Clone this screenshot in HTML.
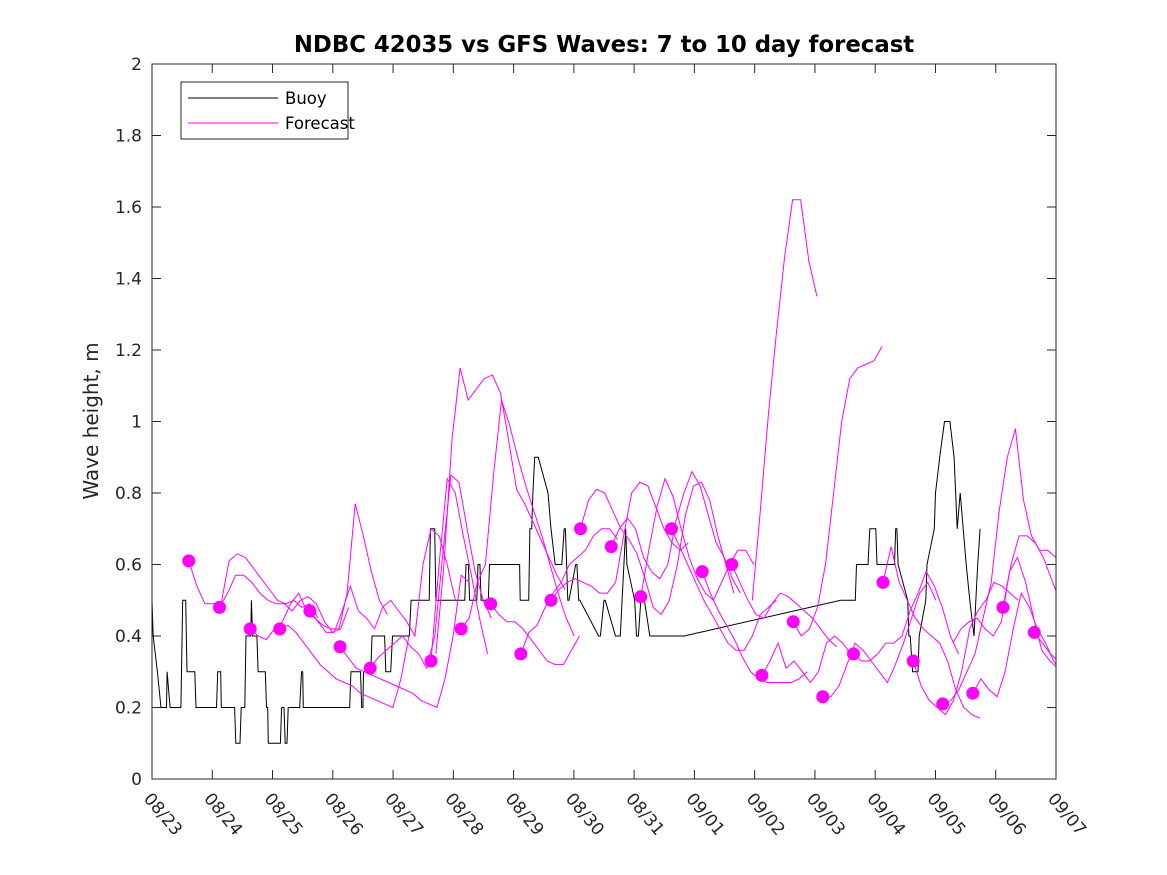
<!DOCTYPE html>
<html><head><meta charset="utf-8"><style>
html,body{margin:0;padding:0;background:#fff;}
svg{display:block;font-family:"DejaVu Sans","Liberation Sans",sans-serif;}
</style></head><body>
<svg id="chart" width="1167" height="875" viewBox="0 0 1167 875" xmlns="http://www.w3.org/2000/svg">
<rect x="0" y="0" width="1167" height="875" fill="#fff"/>
<text x="604" y="52" text-anchor="middle" font-size="22.8" font-weight="bold" fill="#000">NDBC 42035 vs GFS Waves: 7 to 10 day forecast</text>
<text transform="translate(98,421) rotate(-90)" text-anchor="middle" font-size="20" fill="#262626">Wave height, m</text>
<g id="grid"></g>
<g id="series"></g>
<rect x="152" y="64" width="904" height="715" fill="none" stroke="#262626" stroke-width="1"/>
<g>
<rect x="181" y="82" width="167" height="57" fill="#fff" stroke="#262626" stroke-width="1"/>
<line x1="188" y1="98" x2="278" y2="98" stroke="#000" stroke-width="1"/>
<text x="285" y="104" font-size="16.5" fill="#000">Buoy</text>
<line x1="188" y1="123" x2="278" y2="123" stroke="#ff00ff" stroke-width="1"/>
<text x="285" y="129" font-size="16.5" fill="#000">Forecast</text>
</g>
</svg>
<script>
const yTicks=[0,0.2,0.4,0.6,0.8,1,1.2,1.4,1.6,1.8,2];
const yTickLabels=["0","0.2","0.4","0.6","0.8","1","1.2","1.4","1.6","1.8","2"];
const xTickLabels=["08/23","08/24","08/25","08/26","08/27","08/28","08/29","08/30","08/31","09/01","09/02","09/03","09/04","09/05","09/06","09/07"];
const buoyDays=[0,0.02,0.09,0.15,0.24,0.25,0.30,0.48,0.51,0.56,0.58,0.71,0.73,1.07,1.09,1.14,1.15,1.37,1.39,1.46,1.48,1.54,1.56,1.64,1.65,1.67,1.69,1.74,1.76,1.88,1.90,1.92,1.93,2.13,2.15,2.19,2.21,2.24,2.26,2.45,2.48,2.50,2.51,2.75,2.78,3.28,3.30,3.46,3.48,3.50,3.51,3.63,3.65,3.86,3.88,3.96,3.99,4.03,4.05,4.27,4.30,4.31,4.33,4.60,4.62,4.69,4.71,4.76,4.78,5.19,5.21,5.25,5.27,5.39,5.41,5.44,5.46,5.58,5.60,6.05,6.07,6.10,6.11,6.25,6.27,6.30,6.32,6.35,6.41,6.57,6.62,6.69,6.80,6.84,6.86,6.90,6.92,7.03,7.05,7.08,7.10,7.41,7.44,7.50,7.52,7.69,7.71,7.75,7.77,7.86,7.88,8.01,8.04,8.07,8.11,8.17,8.26,8.83,11.43,11.67,11.69,11.88,11.91,12.01,12.03,12.32,12.34,12.36,12.38,12.54,12.56,12.58,12.62,12.71,12.73,12.84,12.86,12.98,13.00,13.07,13.15,13.24,13.31,13.36,13.41,13.51,13.57,13.64,13.70,13.74,13.87,14.03,14.15,14.24,14.28];
const buoyVals=[0.5,0.4,0.3,0.2,0.2,0.3,0.2,0.2,0.5,0.5,0.3,0.3,0.2,0.2,0.3,0.3,0.2,0.2,0.1,0.1,0.2,0.2,0.4,0.4,0.5,0.4,0.4,0.4,0.3,0.3,0.2,0.2,0.1,0.1,0.2,0.2,0.1,0.1,0.2,0.2,0.3,0.3,0.2,0.2,0.2,0.2,0.3,0.3,0.2,0.2,0.3,0.3,0.4,0.4,0.3,0.3,0.4,0.4,0.4,0.4,0.5,0.5,0.5,0.5,0.7,0.7,0.5,0.5,0.5,0.5,0.6,0.6,0.5,0.5,0.6,0.6,0.5,0.5,0.6,0.6,0.6,0.6,0.5,0.5,0.7,0.7,0.8,0.9,0.9,0.8,0.7,0.6,0.6,0.7,0.7,0.5,0.5,0.6,0.6,0.5,0.5,0.4,0.4,0.5,0.5,0.4,0.4,0.4,0.4,0.7,0.6,0.5,0.4,0.4,0.5,0.5,0.4,0.4,0.5,0.5,0.6,0.6,0.7,0.7,0.6,0.6,0.7,0.7,0.6,0.5,0.4,0.4,0.3,0.3,0.4,0.5,0.6,0.7,0.8,0.9,1.0,1.0,0.9,0.7,0.8,0.6,0.5,0.4,0.6,0.7];
const dotDays=[0.61,1.12,1.63,2.12,2.62,3.12,3.62,4.63,5.13,5.62,6.12,6.62,7.11,7.62,8.11,8.62,9.13,9.62,10.12,10.64,11.13,11.64,12.13,12.63,13.12,13.62,14.12,14.64];
const dotVals=[0.61,0.48,0.42,0.42,0.47,0.37,0.31,0.33,0.42,0.49,0.35,0.50,0.70,0.65,0.51,0.70,0.58,0.60,0.29,0.44,0.23,0.35,0.55,0.33,0.21,0.24,0.48,0.41];
const fcStarts=[0.61,1.12,1.63,2.12,2.62,3.12,3.62,4.63,4.71,5.13,5.62,6.12,6.62,7.11,7.62,8.11,8.62,9.13,9.62,9.96,10.12,10.64,11.13,11.64,12.13,12.63,13.12,13.62,14.12,14.64,13.29];
const fcVals=[
[0.61,0.54,0.49,0.49,0.49,0.61,0.63,0.62,0.59,0.56,0.53,0.50,0.49,0.50,0.48,0.49,0.45],
[0.48,0.52,0.57,0.57,0.55,0.52,0.50,0.49,0.49,0.47,0.50,0.51,0.49,0.44,0.41,0.42,0.48],
[0.42,0.40,0.39,0.42,0.44,0.49,0.52,0.47,0.45,0.43,0.42,0.42,0.52,0.77,0.68,0.58,0.50,0.46],
[0.42,0.43,0.41,0.38,0.35,0.32,0.30,0.28,0.27,0.26,0.24,0.23,0.22,0.21,0.20,0.28,0.40],
[0.47,0.44,0.41,0.41,0.47,0.54,0.47,0.45,0.42,0.48,0.50,0.47,0.44,0.40,0.60,0.70,0.68,0.60,0.50],
[0.37,0.34,0.31,0.30,0.29,0.28,0.27,0.26,0.25,0.24,0.22,0.21,0.20,0.28,0.40,0.57,0.55],
[0.31,0.34,0.36,0.38,0.40,0.37,0.35,0.31,0.40,0.63,0.85,0.83,0.70,0.58,0.50,0.45],
[0.33,0.60,0.84,0.80,0.68,0.57,0.45,0.35],
[0.35,0.60,0.95,1.15,1.06,1.09,1.12,1.13,1.08,0.95,0.81,0.77,0.72,0.67,0.62,0.57,0.53],
[0.42,0.45,0.55,0.60,0.85,1.06,0.99,0.90,0.82,0.75,0.68,0.60,0.52,0.45,0.40],
[0.49,0.46,0.44,0.44,0.42,0.39,0.36,0.33,0.32,0.32,0.36,0.40],
[0.35,0.41,0.43,0.48,0.52,0.55,0.60,0.62,0.64,0.68,0.70,0.70,0.67],
[0.50,0.53,0.55,0.56,0.55,0.54,0.52,0.52,0.55,0.68,0.80,0.83,0.82,0.76,0.70,0.66,0.64,0.66],
[0.70,0.78,0.81,0.80,0.75,0.70,0.67,0.63,0.56,0.48,0.46,0.50,0.60,0.74,0.82,0.83,0.78,0.68,0.60,0.52],
[0.65,0.70,0.73,0.70,0.62,0.58,0.56,0.60,0.72,0.80,0.86,0.82,0.74,0.66,0.62,0.56,0.52],
[0.51,0.64,0.76,0.84,0.79,0.70,0.62,0.56,0.52,0.50,0.55,0.60,0.64,0.64,0.60],
[0.70,0.65,0.60,0.55,0.50,0.46,0.42,0.38,0.36,0.36,0.40,0.46,0.48,0.50],
[0.58,0.52,0.47,0.43,0.39,0.34,0.30,0.28,0.27,0.27,0.27,0.27,0.28,0.30],
[0.60,0.55,0.50,0.46,0.45,0.49,0.52,0.51,0.49,0.47,0.45,0.42,0.39,0.37],
[0.50,0.75,1.02,1.25,1.46,1.62,1.62,1.45,1.35],
[0.29,0.33,0.38,0.31,0.33,0.30,0.27,0.30,0.38,0.40,0.38,0.35],
[0.44,0.40,0.42,0.48,0.60,0.80,1.00,1.12,1.15,1.16,1.17,1.21],
[0.23,0.23,0.26,0.32,0.38,0.36,0.33,0.30,0.27,0.32,0.38,0.45,0.52,0.55,0.50],
[0.35,0.33,0.33,0.35,0.38,0.38,0.40,0.47,0.52,0.58,0.54,0.48,0.40,0.35],
[0.55,0.65,0.55,0.50,0.45,0.42,0.40,0.38,0.33,0.25,0.20,0.18,0.17],
[0.33,0.26,0.22,0.20,0.18,0.22,0.30,0.42,0.47,0.50,0.55,0.54,0.52,0.50],
[0.21,0.22,0.25,0.30,0.35,0.45,0.55,0.75,0.90,0.98,0.78,0.68,0.64,0.64,0.62,0.58],
[0.24,0.28,0.25,0.23,0.30,0.42,0.52,0.48,0.42,0.38,0.33,0.30,0.28],
[0.48,0.60,0.68,0.68,0.66,0.62,0.56,0.50,0.45],
[0.41,0.38,0.35,0.33,0.34,0.38],
[0.38,0.42,0.44,0.45,0.42,0.40,0.44,0.58,0.62,0.55,0.45,0.36,0.33,0.31]
];
const NS="http://www.w3.org/2000/svg";
const X0=152,X1=1056,Y0=779,Y1=64,DMAX=15,VMAX=2,STEP=0.134;
function xs(d){return X0+(X1-X0)*d/DMAX;}
function ys(v){return Y0-(Y0-Y1)*v/VMAX;}
function mk(tag,attrs,parent){const e=document.createElementNS(NS,tag);for(const k in attrs)e.setAttribute(k,attrs[k]);parent.appendChild(e);return e;}
const grid=document.getElementById('grid'),series=document.getElementById('series');
const clip=mk('clipPath',{id:'pc'},document.getElementById('chart'));
mk('rect',{x:X0,y:Y1,width:X1-X0,height:Y0-Y1},clip);
series.setAttribute('clip-path','url(#pc)');
yTicks.forEach((v,i)=>{
  const y=ys(v);
  const t1=mk('line',{x1:X0,y1:y,x2:X0+9,y2:y,stroke:'#262626'},grid);
  
  
  const t2=mk('line',{x1:X1-9,y1:y,x2:X1,y2:y,stroke:'#262626'},grid);
  
  
  const tx=mk('text',{x:X0-10,y:y+6,'text-anchor':'end','font-size':17,fill:'#262626'},grid);
  tx.textContent=yTickLabels[i];
  
  
});
xTickLabels.forEach((lab,i)=>{
  const x=xs(i);
  const t1=mk('line',{x1:x,y1:Y0,x2:x,y2:Y0-9,stroke:'#262626'},grid);
  
  
  const t2=mk('line',{x1:x,y1:Y1,x2:x,y2:Y1+9,stroke:'#262626'},grid);
  
  
  const tx=mk('text',{transform:`translate(${x-9},${Y0+20}) rotate(50)`,'font-size':17,fill:'#262626'},grid);
  tx.textContent=lab;
  
  
});
const bp=buoyDays.map((d,i)=>xs(d).toFixed(1)+','+ys(buoyVals[i]).toFixed(1)).join(' ');
const bl=mk('polyline',{points:bp,fill:'none',stroke:'#000','stroke-width':1},series);


fcStarts.forEach((s,i)=>{
  const pts=fcVals[i].map((v,j)=>xs(s+j*STEP).toFixed(1)+','+ys(v).toFixed(1)).join(' ');
  const pl=mk('polyline',{points:pts,fill:'none',stroke:'#ff00ff','stroke-width':1},series);
  
  
});
dotDays.forEach((d,i)=>{
  const c=mk('circle',{cx:xs(d),cy:ys(dotVals[i]),r:6.5,fill:'#ff00ff'},series);
  
  
});
</script>
</body></html>
